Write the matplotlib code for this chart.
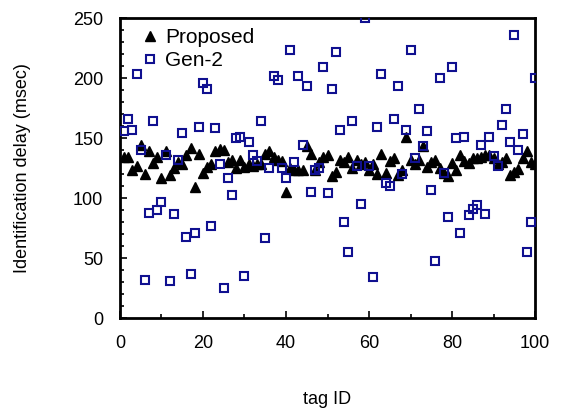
import matplotlib
matplotlib.use("Agg")
import matplotlib.pyplot as plt
from matplotlib.ticker import MultipleLocator

plt.rcParams['font.family'] = ['Liberation Sans', 'DejaVu Sans']

tag_ids = list(range(1, 101))

proposed = [
    134, 134, 123, 127, 144, 120, 139, 129, 134, 117,
    139, 119, 125, 130, 128, 136, 142, 109, 137, 121,
    126, 128, 139, 141, 140, 130, 132, 125, 132, 126,
    128, 127, 128, 128, 137, 139, 134, 132, 131, 105,
    125, 123, 123, 123, 143, 137, 123, 130, 134, 136,
    118, 122, 132, 130, 134, 125, 132, 128, 130, 123,
    128, 120, 137, 121, 131, 133, 119, 123, 151, 132,
    128, 132, 143, 126, 130, 132, 125, 121, 118, 129,
    123, 136, 131, 129, 133, 133, 134, 136, 136, 133,
    128, 130, 133, 119, 122, 124, 133, 139, 130, 128,
]

gen2 = [
    156, 166, 157, 203, 140, 32, 88, 164, 90, 97,
    136, 31, 87, 132, 154, 68, 37, 71, 159, 196,
    191, 77, 158, 128, 25, 117, 103, 150, 151, 35,
    147, 136, 131, 164, 67, 125, 202, 198, 125, 117,
    223, 130, 202, 144, 193, 105, 123, 125, 209, 104,
    191, 222, 157, 80, 55, 164, 127, 95, 250, 127,
    34, 159, 203, 113, 110, 166, 193, 120, 157, 223,
    133, 174, 143, 156, 107, 48, 200, 121, 84, 209,
    150, 71, 151, 86, 91, 94, 144, 87, 151, 135,
    127, 161, 174, 147, 236, 140, 153, 55, 80, 200,
]

fig = plt.figure(figsize=(5.62, 4.11), dpi=100)
ax = fig.add_axes([0.2135, 0.226, 0.7385, 0.730])

ax.plot(tag_ids, proposed, linestyle='none', marker='^', markersize=7.5,
        color='black', markeredgecolor='black', label='Proposed', zorder=3)
ax.plot(tag_ids, gen2, linestyle='none', marker='s', markersize=5.5,
        markerfacecolor='none', markeredgecolor='#101090', markeredgewidth=1.5,
        label='Gen-2', zorder=4)

ax.set_xlim(0, 100)
ax.set_ylim(0, 250)
ax.xaxis.set_major_locator(MultipleLocator(20))
ax.xaxis.set_minor_locator(MultipleLocator(10))
ax.yaxis.set_major_locator(MultipleLocator(50))
ax.yaxis.set_minor_locator(MultipleLocator(10))
ax.tick_params(which='both', direction='in', top=False, right=False,
               labelsize=13, width=1.2)
ax.tick_params(which='major', length=5, pad=12)
ax.tick_params(which='minor', length=3)
for s in ax.spines.values():
    s.set_linewidth(2)

ax.set_xlabel('tag ID', fontsize=13, labelpad=28)
ax.set_ylabel('Identification delay (msec)', fontsize=13, labelpad=30)

ax.legend(loc='upper left', bbox_to_anchor=(0.058, 0.967), frameon=False,
          fontsize=15, handletextpad=0.4, borderaxespad=0.0,
          labelspacing=0.2, handlelength=0.6, borderpad=0.0)

fig.savefig('out.png', dpi=100)
